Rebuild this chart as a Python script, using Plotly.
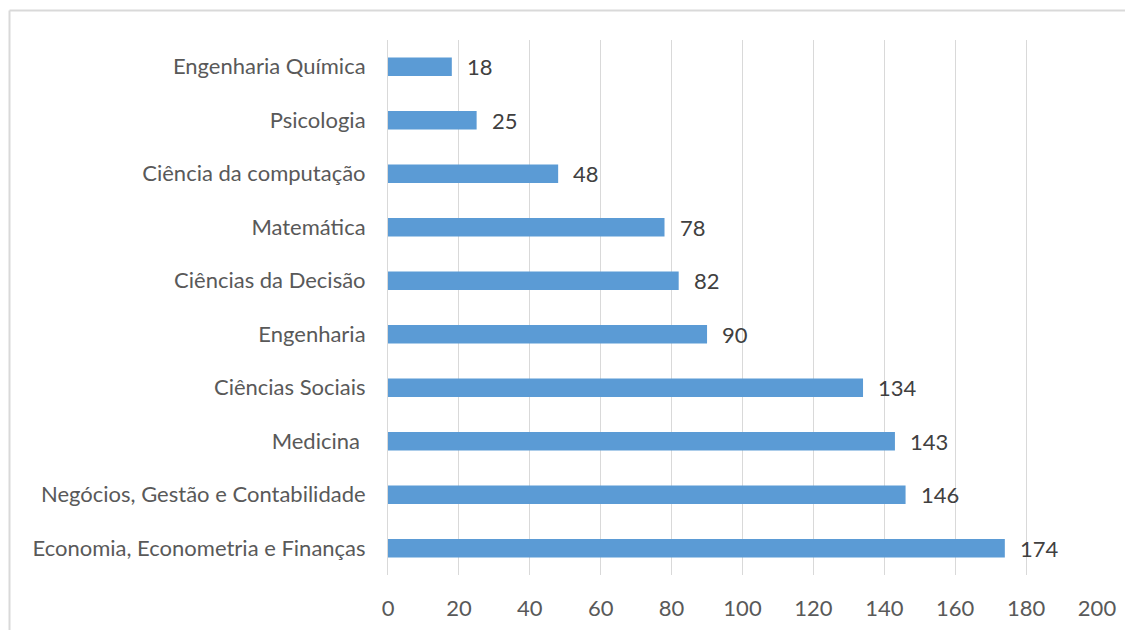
import plotly.graph_objects as go

categories = ["Economia, Econometria e Finanças", "Negócios, Gestão e Contabilidade", "Medicina ",
              "Ciências Sociais", "Engenharia", "Ciências da Decisão", "Matemática",
              "Ciência da computação", "Psicologia", "Engenharia Química"]
values = [174, 146, 143, 134, 90, 82, 78, 48, 25, 18]
x_ticks = [0, 20, 40, 60, 80, 100, 120, 140, 160, 180, 200]

FONT = "Lato"
TXT = "#595959"
FS = 22

fig = go.Figure(go.Bar(
    x=values, y=categories, orientation="h",
    marker=dict(color="#5B9BD5", line=dict(width=0)),
    width=0.35,
))

for c, v in zip(categories, values):
    fig.add_annotation(x=v, y=c, text=str(v), showarrow=False, xanchor="left",
                       xshift=13, font=dict(family=FONT, size=FS, color="#404040"))

bx = (9.5 - 388) / 709
by = 1 + (40 - 10.5) / 535
fig.add_shape(type="line", xref="paper", yref="paper", x0=bx, x1=1.12, y0=by, y1=by,
              line=dict(color="#d9d9d9", width=2), layer="below")
fig.add_shape(type="line", xref="paper", yref="paper", x0=bx, x1=bx, y0=-0.2, y1=by,
              line=dict(color="#d9d9d9", width=2), layer="below")

fig.update_layout(
    width=1133, height=630,
    margin=dict(l=380, r=44, t=32, b=63),
    paper_bgcolor="white", plot_bgcolor="white",
    showlegend=False,
    font=dict(family=FONT, size=FS, color=TXT),
    xaxis=dict(range=[0, 200], tickvals=x_ticks, showgrid=True, gridcolor="#d9d9d9",
               gridwidth=1, zeroline=False, showline=False, ticks="",
               ticklabelstandoff=18, tickfont=dict(family=FONT, size=FS, color=TXT)),
    yaxis=dict(range=[-0.5, 9.5], showgrid=False, showline=True, linecolor="#d9d9d9",
               ticks="", ticklabelstandoff=17, tickfont=dict(family=FONT, size=FS, color=TXT)),
)

fig.write_html("out.html", config={"displayModeBar": False})
